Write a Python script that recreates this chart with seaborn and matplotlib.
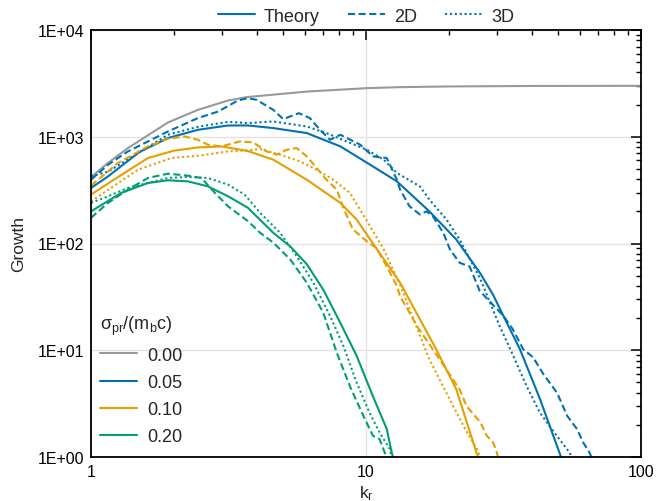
import numpy as np
import pandas as pd
import matplotlib
matplotlib.use("Agg")
import matplotlib.pyplot as plt
import seaborn as sns
from matplotlib.ticker import FixedLocator, FixedFormatter, NullFormatter, LogLocator
from matplotlib.lines import Line2D

# ---------------- data ----------------
sigma_labels = ["0.00", "0.05", "0.10", "0.20"]
colors = ["#999999", "#0072B2", "#E69F00", "#009E73"]

# sigma = 0.00 (theory only)
k_th_000 = [1.0, 1.153, 1.363, 1.905, 2.449, 3.15, 3.67, 6.09, 10.06, 13.3, 20, 40, 100]
g_th_000 = [420, 568, 784, 1361, 1787, 2184, 2350, 2650, 2852, 2915, 2960, 2990, 3000]

# sigma = 0.05
k_th_005 = [1.0, 1.153, 1.5, 1.905, 2.449, 3.15, 3.72, 4.6, 6.09, 8.07, 10.6, 12.95, 17.0, 21.3, 26.1, 29.0,
            30.6, 36.3, 42.9, 50.7, 52]
g_th_005 = [331, 425, 720, 972, 1162, 1275, 1275, 1206, 1083, 812, 527, 382, 200, 109, 52, 33,
            24.8, 10.2, 3.5, 1.07, 0.9]
k_2d_005 = [1.0, 1.153, 1.363, 1.611, 1.905, 2.449, 2.9, 3.42, 3.72, 4.0, 4.6, 5.0, 5.7, 6.25, 6.8, 7.4, 8.07,
            8.77, 9.53, 10.6, 11.9, 12.95, 13.3, 14.4, 15.7, 16.6, 17.5, 19.1, 20.2, 21.9, 23.8, 25.2, 25.9,
            31.6, 34.2, 37.3, 40.5, 44.1, 49.5, 53.9, 58.5, 61.6, 65, 67]
g_2d_005 = [396, 547, 729, 904, 1121, 1496, 1723, 2184, 2300, 2218, 1787, 1463, 1663, 1496, 1163, 937, 1044,
            937, 842, 655, 632, 396, 320, 223, 187, 200, 180, 126, 88, 66, 61, 43, 36,
            21, 15.7, 10.2, 8.6, 6.0, 4.0, 2.43, 1.83, 1.37, 1.1, 0.9]
k_3d_005 = [1.0, 1.153, 1.905, 2.449, 3.15, 3.72, 4.6, 6.09, 7.18, 8.5, 10.06, 11.6, 12.95, 15.7, 17.0, 19.6,
            21.9, 26.1, 30.6, 34.3, 38.4, 42.9, 49.4, 55.0, 57]
g_3d_005 = [425, 471, 1044, 1240, 1380, 1343, 1390, 1248, 1083, 904, 756, 610, 458, 343, 258, 168,
            109, 46, 16.9, 8.9, 4.6, 2.6, 1.58, 1.1, 0.9]

# sigma = 0.10
k_th_010 = [1.0, 1.2, 1.611, 2.0, 2.449, 2.98, 3.72, 4.6, 6.09, 8.07, 9.24, 10.6, 13.3, 18.0, 21.3, 25.3, 26]
g_th_010 = [287, 390, 632, 740, 794, 812, 735, 610, 396, 240, 168, 100, 43, 10.2, 4.3, 1.07, 0.9]
k_2d_010 = [1.0, 1.254, 1.611, 1.905, 2.19, 2.449, 2.66, 2.98, 3.48, 3.89, 4.35, 4.73, 5.15, 5.6, 6.09, 6.62,
            7.18, 7.83, 8.27, 8.74, 8.98, 10.06, 10.9, 11.9, 12.95, 13.3, 14.4, 15.3, 17.0, 19.6, 21.9, 23.2,
            26.1, 27.5, 29.0, 29.9, 30.5]
g_2d_010 = [348, 568, 812, 958, 1006, 937, 842, 812, 904, 885, 729, 679, 756, 784, 655, 510,
            396, 320, 216, 156, 135, 105, 91, 61, 40, 32, 22.5, 16.9, 11.4, 6.6, 4.3, 3.0,
            2.1, 1.58, 1.37, 1.1, 0.9]
k_3d_010 = [1.0, 1.482, 1.96, 2.449, 3.15, 3.72, 4.12, 4.87, 5.75, 6.62, 7.6, 8.74, 10.1, 11.6, 13.3, 14.9,
            17.0, 19.6, 22.6, 25.3, 26.5]
g_3d_010 = [248, 491, 632, 664, 729, 745, 767, 679, 588, 491, 396, 298, 161, 88, 41, 19.5,
            8.2, 4.0, 1.96, 1.19, 0.9]

# sigma = 0.20
k_th_020 = [1.0, 1.289, 1.611, 1.905, 2.25, 2.66, 3.15, 3.72, 4.6, 5.3, 6.09, 6.99, 8.07, 9.24, 10.6, 11.9, 12.4, 12.7]
g_th_020 = [200, 298, 369, 391, 382, 343, 277, 216, 126, 94, 64, 37, 18, 8.9, 3.7, 1.83, 1.1, 0.9]
k_2d_020 = [1.0, 1.153, 1.363, 1.611, 1.905, 2.25, 2.52, 2.82, 3.15, 3.72, 4.12, 4.6, 5.3, 6.09, 6.99, 7.83,
            8.74, 9.78, 10.6, 11.2, 11.7, 12.0]
g_2d_020 = [174, 240, 320, 411, 451, 432, 411, 298, 223, 162, 126, 102, 71, 43, 22.5, 9.5,
            4.6, 2.43, 1.58, 1.47, 1.1, 0.9]
k_3d_020 = [1.0, 1.153, 1.363, 1.611, 1.905, 2.25, 2.66, 3.15, 3.62, 4.12, 4.87, 5.6, 6.43, 7.4, 8.27, 9.24,
            10.3, 11.2, 12.2, 12.5]
g_3d_020 = [240, 277, 332, 369, 411, 420, 411, 356, 287, 194, 126, 76, 43, 21, 11, 5.0,
            2.6, 1.7, 1.19, 0.9]

x_ticks = [1, 10, 100]
x_ticklabels = ["1", "10", "100"]
y_ticks = [1, 10, 100, 1000, 10000]
y_ticklabels = ["1E+00", "1E+01", "1E+02", "1E+03", "1E+04"]

# ---------------- build table ----------------
series = [
    ("0.00", "Theory", k_th_000, g_th_000),
    ("0.05", "Theory", k_th_005, g_th_005),
    ("0.05", "2D", k_2d_005, g_2d_005),
    ("0.05", "3D", k_3d_005, g_3d_005),
    ("0.10", "Theory", k_th_010, g_th_010),
    ("0.10", "2D", k_2d_010, g_2d_010),
    ("0.10", "3D", k_3d_010, g_3d_010),
    ("0.20", "Theory", k_th_020, g_th_020),
    ("0.20", "2D", k_2d_020, g_2d_020),
    ("0.20", "3D", k_3d_020, g_3d_020),
]
frames = []
for i, (s, kind, kk, gg) in enumerate(series):
    frames.append(pd.DataFrame({"k": kk, "G": gg, "sigma": s, "kind": kind, "sid": i}))
df = pd.concat(frames, ignore_index=True)

# ---------------- style ----------------
sns.set_theme(style="white")
plt.rcParams["font.family"] = ["Liberation Sans", "DejaVu Sans"]
plt.rcParams["mathtext.fontset"] = "custom"
plt.rcParams["mathtext.rm"] = "Liberation Sans"
plt.rcParams["mathtext.it"] = "Liberation Sans:italic"
plt.rcParams["font.size"] = 11

fig = plt.figure(figsize=(6.6, 5.02), dpi=100)
ax = fig.add_axes([91 / 660, 1 - 458 / 502, 550 / 660, 427 / 502])

cmap = dict(zip(sigma_labels, colors))
LW = 1.5
dash_map = {"Theory": "-", "2D": (0, (3.4, 1.7)), "3D": (0, (1.0, 1.35))}

for sid, sub in df.groupby("sid", sort=True):
    s = sub["sigma"].iloc[0]
    kind = sub["kind"].iloc[0]
    sns.lineplot(data=sub, x="k", y="G", ax=ax, color=cmap[s], sort=False,
                 estimator=None, legend=False, linewidth=LW,
                 linestyle=dash_map[kind])

ax.set_xscale("log")
ax.set_yscale("log")
ax.set_xlim(1, 100)
ax.set_ylim(1, 10000)

ax.xaxis.set_major_locator(FixedLocator(x_ticks))
ax.xaxis.set_major_formatter(FixedFormatter(x_ticklabels))
ax.yaxis.set_major_locator(FixedLocator(y_ticks))
ax.yaxis.set_major_formatter(FixedFormatter(y_ticklabels))
ax.xaxis.set_minor_locator(LogLocator(base=10, subs=np.arange(2, 10)))
ax.yaxis.set_minor_locator(LogLocator(base=10, subs=np.arange(2, 10)))
ax.xaxis.set_minor_formatter(NullFormatter())
ax.yaxis.set_minor_formatter(NullFormatter())

ax.tick_params(which="both", direction="in", top=True, right=True, colors="black",
               labelsize=11.5)
ax.tick_params(which="major", length=7, width=1.1, pad=5)
ax.tick_params(which="minor", length=3.5, width=1.0)
for sp in ax.spines.values():
    sp.set_color("black")
    sp.set_linewidth(1.3)

ax.grid(True, which="major", color="#e3e3e3", linewidth=1.0)
ax.set_axisbelow(True)

ax.set_xlabel("k$_\\mathregular{r}$", fontsize=12.5, labelpad=3)
ax.set_ylabel("Growth", fontsize=12.5, labelpad=8)

# top legend: line styles
style_handles = [Line2D([], [], color=colors[1], lw=LW, linestyle=dash_map[k]) for k in ["Theory", "2D", "3D"]]
leg1 = ax.legend(style_handles, ["Theory", "2D", "3D"], loc="lower center",
                 bbox_to_anchor=(0.5, 1.0), ncol=3, frameon=False, fontsize=13,
                 handlelength=2.05, handletextpad=0.5, columnspacing=1.55,
                 borderaxespad=0.0, borderpad=0.3)
ax.add_artist(leg1)

# bottom-left legend: sigma colours
col_handles = [Line2D([], [], color=c, lw=LW) for c in colors]
leg2 = ax.legend(col_handles, sigma_labels, loc="lower left",
                 bbox_to_anchor=(9 / 550, 0.028), frameon=False, fontsize=13,
                 title="σ$_\\mathregular{pr}$/(m$_\\mathregular{b}$c)", title_fontsize=13,
                 handlelength=2.05, handletextpad=0.55, labelspacing=0.56, alignment="left",
                 borderaxespad=0.0, borderpad=0.0)
leg2._legend_box.sep = 7

fig.savefig("out.png", dpi=100)
